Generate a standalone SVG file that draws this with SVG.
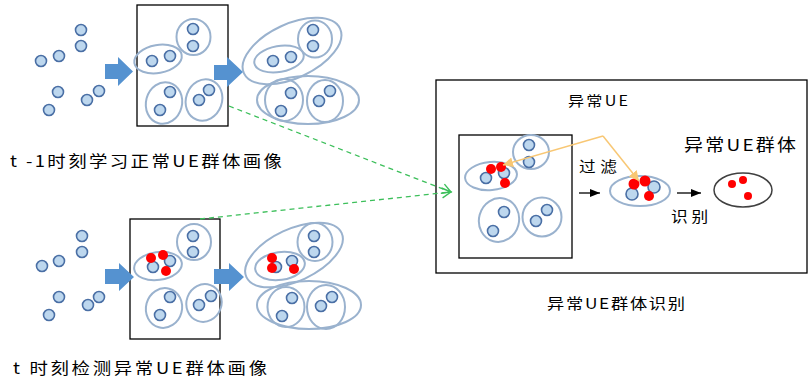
<svg xmlns="http://www.w3.org/2000/svg" width="809" height="381" viewBox="0 0 809 381">
<defs>
<style>
.d{fill:#bdd7ee;stroke:#4a6fa5;stroke-width:1.6}
.r{fill:#ff0000}
.e{fill:none;stroke:#9ab2ce;stroke-width:2}
.box{fill:#fff;stroke:#000;stroke-width:1.3}
.ba{fill:#5592d0}
.t{font-family:"Noto Sans CJK SC","Liberation Sans",sans-serif;fill:#000}
.gl{fill:none;stroke:#3cbf5a;stroke-width:1.3;stroke-dasharray:5,4}
.ol{fill:none;stroke:#f8c774;stroke-width:1.5}
.kl{fill:none;stroke:#000;stroke-width:1.3}
</style>
<marker id="mg" markerWidth="12" markerHeight="12" refX="10" refY="6" orient="auto" markerUnits="userSpaceOnUse">
<path d="M1,1 L10,6 L1,11" fill="none" stroke="#3cbf5a" stroke-width="1.4"/>
</marker>
<marker id="mo" markerWidth="12" markerHeight="12" refX="10" refY="6" orient="auto" markerUnits="userSpaceOnUse">
<path d="M0,1 L10,6 L0,11 Z" fill="#f8c774"/>
</marker>
<marker id="mk" markerWidth="12" markerHeight="10" refX="10" refY="5" orient="auto" markerUnits="userSpaceOnUse">
<path d="M0,1 L10,5 L0,9 Z" fill="#000"/>
</marker>
</defs>
<rect width="809" height="381" fill="#fff"/>

<g id="scatter-top">
<circle class="d" cx="81" cy="30" r="5.5"/><circle class="d" cx="81" cy="46" r="5.5"/>
<circle class="d" cx="41" cy="61" r="5.5"/><circle class="d" cx="59" cy="56" r="5.5"/>
<circle class="d" cx="58" cy="92" r="5.5"/><circle class="d" cx="49" cy="110" r="5.5"/>
<circle class="d" cx="87" cy="100" r="5.5"/><circle class="d" cx="99" cy="91" r="5.5"/>
</g>
<g id="box-top">
<rect class="box" x="137" y="5" width="91" height="121"/>
<ellipse class="e" cx="158" cy="59" rx="24" ry="14" transform="rotate(-10 158 59)"/>
<circle class="d" cx="152" cy="61" r="5.5"/><circle class="d" cx="170" cy="56" r="5.5"/>
<ellipse class="e" cx="193.5" cy="37" rx="17" ry="18"/>
<circle class="d" cx="193" cy="29" r="5.5"/><circle class="d" cx="193" cy="46" r="5.5"/>
<ellipse class="e" cx="164" cy="103" rx="18" ry="21" transform="rotate(15 164 103)"/>
<circle class="d" cx="170" cy="92" r="5.5"/><circle class="d" cx="160" cy="110" r="5.5"/>
<ellipse class="e" cx="204" cy="100" rx="18" ry="21" transform="rotate(20 204 100)"/>
<circle class="d" cx="199" cy="100" r="5.5"/><circle class="d" cx="209" cy="90" r="5.5"/>
</g>
<g id="clusters-top">
<ellipse class="e" cx="292" cy="51" rx="53" ry="27" transform="rotate(-25 292 51)"/>
<ellipse class="e" cx="279" cy="59" rx="25" ry="13" transform="rotate(-10 279 59)"/>
<circle class="d" cx="273" cy="61" r="5.5"/><circle class="d" cx="291" cy="57" r="5.5"/>
<ellipse class="e" cx="315" cy="39" rx="17" ry="18.5"/>
<circle class="d" cx="313" cy="30" r="5.5"/><circle class="d" cx="313" cy="46" r="5.5"/>
<ellipse class="e" cx="308" cy="100" rx="51" ry="24"/>
<ellipse class="e" cx="284" cy="100" rx="19" ry="21"/>
<circle class="d" cx="291" cy="93" r="5.5"/><circle class="d" cx="281" cy="111" r="5.5"/>
<ellipse class="e" cx="325" cy="101" rx="18" ry="21"/>
<circle class="d" cx="319" cy="101" r="5.5"/><circle class="d" cx="330" cy="91" r="5.5"/>
</g>
<g id="arrows-top">
<path class="ba" d="M105,64 H118 V57 L133,71.5 L118,86 V79 H105 Z"/>
<path class="ba" d="M214,65 H227 V57 L243,72 L227,87 V80 H214 Z"/>
</g>
<g id="label-top"><text class="t" transform="scale(1.15,1)" x="8.7" y="167" font-size="16" textLength="236.5" lengthAdjust="spacing">t -1时刻学习正常UE群体画像</text></g>

<g id="scatter-bottom">
<circle class="d" cx="82" cy="236" r="5.5"/><circle class="d" cx="82" cy="252" r="5.5"/>
<circle class="d" cx="42" cy="266" r="5.5"/><circle class="d" cx="59" cy="261" r="5.5"/>
<circle class="d" cx="59" cy="297" r="5.5"/><circle class="d" cx="49" cy="315" r="5.5"/>
<circle class="d" cx="88" cy="305" r="5.5"/><circle class="d" cx="99" cy="297" r="5.5"/>
</g>
<g id="box-bottom">
<rect class="box" x="130" y="219" width="90" height="120"/>
<ellipse class="e" cx="158" cy="266" rx="24" ry="14" transform="rotate(-8 158 266)"/>
<circle class="d" cx="153" cy="267" r="5.5"/><circle class="d" cx="170" cy="261" r="5.5"/>
<circle class="r" cx="151" cy="258" r="5"/><circle class="r" cx="163" cy="255" r="5"/><circle class="r" cx="166" cy="271" r="5"/>
<ellipse class="e" cx="194" cy="242" rx="17" ry="18"/>
<circle class="d" cx="193" cy="236" r="5.5"/><circle class="d" cx="193" cy="252" r="5.5"/>
<ellipse class="e" cx="164" cy="308" rx="18" ry="20" transform="rotate(15 164 308)"/>
<circle class="d" cx="170" cy="297" r="5.5"/><circle class="d" cx="160" cy="315" r="5.5"/>
<ellipse class="e" cx="204" cy="303" rx="17.5" ry="19" transform="rotate(20 204 303)"/>
<circle class="d" cx="199" cy="305" r="5.5"/><circle class="d" cx="211" cy="296" r="5.5"/>
</g>
<g id="clusters-bottom">
<ellipse class="e" cx="294" cy="255" rx="52.5" ry="26" transform="rotate(-25 294 255)"/>
<ellipse class="e" cx="280" cy="266" rx="25" ry="14" transform="rotate(-8 280 266)"/>
<circle class="d" cx="276" cy="267" r="5.5"/><circle class="d" cx="292" cy="261" r="5.5"/>
<circle class="r" cx="272" cy="258" r="5"/><circle class="r" cx="272" cy="268" r="5"/><circle class="r" cx="294" cy="269" r="5"/>
<ellipse class="e" cx="315" cy="242" rx="17.5" ry="19"/>
<circle class="d" cx="314" cy="236" r="5.5"/><circle class="d" cx="314" cy="252" r="5.5"/>
<ellipse class="e" cx="309" cy="305" rx="52" ry="24"/>
<ellipse class="e" cx="286" cy="307" rx="18.5" ry="20"/>
<circle class="d" cx="292" cy="298" r="5.5"/><circle class="d" cx="282" cy="316" r="5.5"/>
<ellipse class="e" cx="326" cy="307" rx="19" ry="22"/>
<circle class="d" cx="321" cy="306" r="5.5"/><circle class="d" cx="332" cy="297" r="5.5"/>
</g>
<g id="arrows-bottom">
<path class="ba" d="M105,269 H119 V263 L134,277 L119,291 V284 H105 Z"/>
<path class="ba" d="M214,269 H229 V263 L244,277 L229,291 V284 H214 Z"/>
</g>
<g id="label-bottom"><text class="t" transform="scale(1.15,1)" x="11.3" y="374" font-size="16" textLength="220.9" lengthAdjust="spacing">t 时刻检测异常UE群体画像</text></g>

<g id="panel">
<rect class="box" x="436" y="80" width="371" height="193" fill="none"/>
<text class="t" transform="scale(1.15,1)" x="493.9" y="106" font-size="14" textLength="52.2" lengthAdjust="spacing">异常UE</text>
<text class="t" transform="scale(1.15,1)" x="594.8" y="151" font-size="16.5" textLength="97.4" lengthAdjust="spacing">异常UE群体</text>
<text class="t" transform="scale(1.15,1)" x="503.5" y="172" font-size="14.5" textLength="33" lengthAdjust="spacing">过滤</text>
<text class="t" transform="scale(1.15,1)" x="583.5" y="222" font-size="14.5" textLength="32.2" lengthAdjust="spacing">识别</text>
</g>
<g id="inner-box">
<rect class="box" x="459" y="135" width="113" height="123"/>
<ellipse class="e" cx="491" cy="176" rx="26" ry="14" transform="rotate(-5 491 176)"/>
<circle class="d" cx="486" cy="178" r="5.5"/><circle class="d" cx="504" cy="173" r="5.5"/>
<circle class="r" cx="491" cy="169" r="5"/><circle class="r" cx="501" cy="167" r="5"/><circle class="r" cx="505" cy="183" r="5"/>
<ellipse class="e" cx="531" cy="152" rx="18" ry="17"/>
<circle class="d" cx="529" cy="145" r="5.5"/><circle class="d" cx="529" cy="162" r="5.5"/>
<ellipse class="e" cx="499" cy="220" rx="20" ry="22" transform="rotate(15 499 220)"/>
<circle class="d" cx="504" cy="212" r="5.5"/><circle class="d" cx="493" cy="231" r="5.5"/>
<ellipse class="e" cx="542" cy="217" rx="19.5" ry="19.5"/>
<circle class="d" cx="536" cy="221" r="5.5"/><circle class="d" cx="547" cy="210" r="5.5"/>
</g>
<g id="filtered">
<ellipse class="e" cx="640" cy="191" rx="30" ry="15"/>
<circle class="d" cx="632" cy="194" r="6"/><circle class="d" cx="654" cy="187" r="6"/>
<circle class="r" cx="634" cy="184" r="5.5"/><circle class="r" cx="645" cy="181" r="5.5"/><circle class="r" cx="649" cy="196" r="5"/>
</g>
<g id="group-result">
<ellipse cx="743" cy="190" rx="29" ry="17" fill="none" stroke="#404040" stroke-width="1.5"/>
<circle class="r" cx="732" cy="184" r="4"/><circle class="r" cx="743" cy="180" r="4"/><circle class="r" cx="748" cy="196" r="4"/>
</g>
<g id="label-panel"><text class="t" transform="scale(1.15,1)" x="475.7" y="309" font-size="15" textLength="120" lengthAdjust="spacing">异常UE群体识别</text></g>

<g id="connectors">
<path class="gl" d="M229,106 L451,192" marker-end="url(#mg)"/>
<path class="gl" d="M200,219 L451,192" marker-end="url(#mg)"/>
<path class="ol" d="M603,136 L503,165" marker-end="url(#mo)"/>
<path class="ol" d="M603,136 L639,181" marker-end="url(#mo)"/>
<path class="kl" d="M579,193 L600,193" marker-end="url(#mk)"/>
<path class="kl" d="M677,193 L701,193" marker-end="url(#mk)"/>
</g>
</svg>
